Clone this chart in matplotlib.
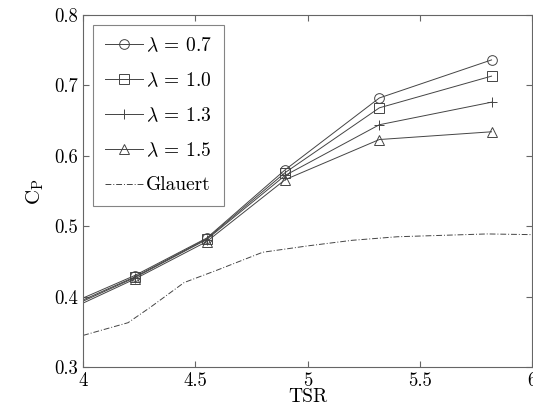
import matplotlib
matplotlib.use('Agg')
import matplotlib.pyplot as plt

plt.rcParams['font.family'] = 'serif'
plt.rcParams['font.serif'] = ['cmr10', 'DejaVu Serif']
plt.rcParams['mathtext.fontset'] = 'cm'
plt.rcParams['axes.formatter.use_mathtext'] = True

# data
tsr = [3.92, 4.23, 4.55, 4.90, 5.32, 5.82]
cp_07 = [0.387, 0.430, 0.483, 0.580, 0.682, 0.736]
cp_10 = [0.384, 0.428, 0.482, 0.576, 0.668, 0.713]
cp_13 = [0.382, 0.427, 0.481, 0.572, 0.644, 0.676]
cp_15 = [0.379, 0.425, 0.478, 0.566, 0.623, 0.634]

tsr_glauert = [4.0, 4.2, 4.3, 4.45, 4.6, 4.8, 5.0, 5.2, 5.4, 5.6, 5.8, 6.0]
cp_glauert = [0.345, 0.363, 0.385, 0.420, 0.438, 0.463, 0.472, 0.480, 0.485, 0.487, 0.489, 0.488]

labels = [r'$\mathbf{\lambda}$ = 0.7', r'$\mathbf{\lambda}$ = 1.0',
          r'$\mathbf{\lambda}$ = 1.3', r'$\mathbf{\lambda}$ = 1.5']
markers = ['o', 's', '+', '^']

fig = plt.figure(figsize=(5.33, 4.12), dpi=100)
ax = fig.add_axes([0.156, 0.109, 0.842, 0.855])

c = '#444444'
for ys, m, lab in zip([cp_07, cp_10, cp_13, cp_15], markers, labels):
    ax.plot(tsr, ys, color=c, lw=0.7, marker=m, ms=7, mfc='none', mec=c, mew=0.7, label=lab)
ax.plot(tsr_glauert, cp_glauert, color=c, lw=0.7, ls=(0, (6, 2, 1, 2)), label='Glauert')

ax.set_xlim(4, 6)
ax.set_ylim(0.3, 0.8)
ax.set_xticks([4, 4.5, 5, 5.5, 6])
ax.set_xticklabels(['4', '4.5', '5', '5.5', '6'])
ax.set_yticks([0.3, 0.4, 0.5, 0.6, 0.7, 0.8])
ax.set_yticklabels(['0.3', '0.4', '0.5', '0.6', '0.7', '0.8'])
ax.tick_params(direction='in', top=True, right=True, labelsize=13.5, length=4, color='#666666')
for s in ax.spines.values():
    s.set_color('#666666')
ax.set_xlabel('TSR', fontsize=14, labelpad=-1)
ax.set_ylabel(r'C$_{\mathrm{P}}$', fontsize=15, labelpad=6)

leg = ax.legend(loc='upper left', fontsize=14, fancybox=False, edgecolor='#666666',
                handlelength=2.0, labelspacing=0.85, borderpad=0.6, borderaxespad=0.5,
                handletextpad=0.15)
leg.get_frame().set_linewidth(0.8)

fig.savefig('out.png', dpi=100)
